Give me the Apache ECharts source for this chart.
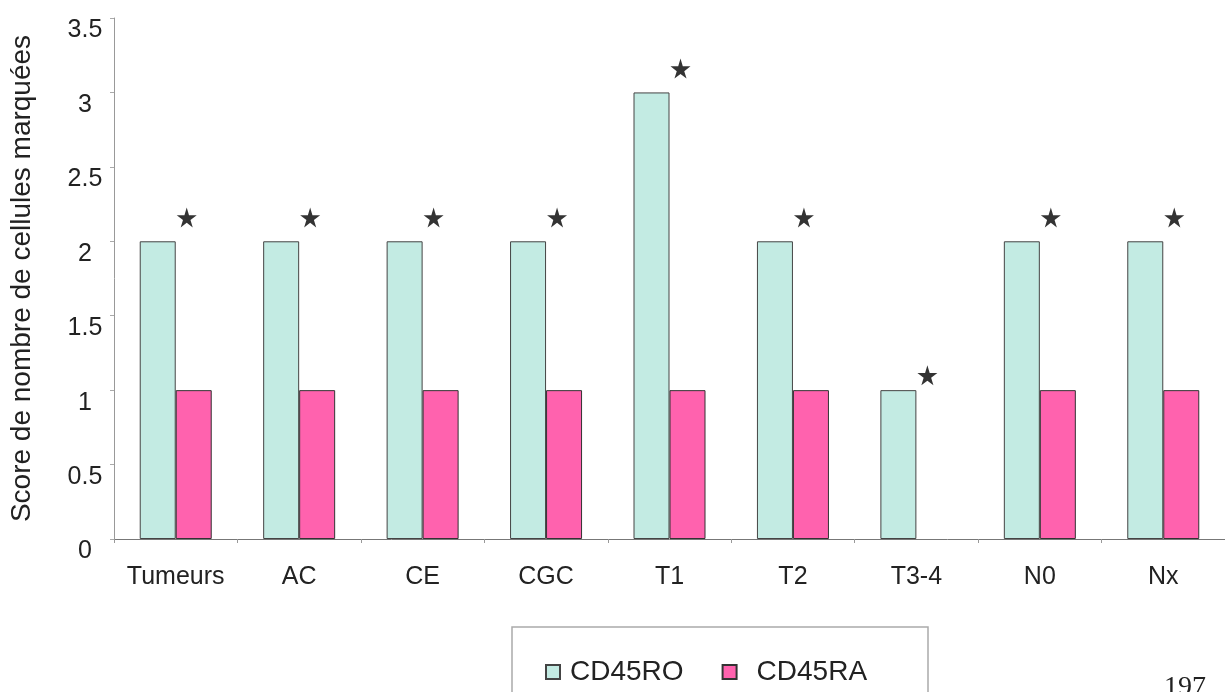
<!DOCTYPE html>
<html>
<head>
<meta charset="utf-8">
<script src="https://cdn.jsdelivr.net/npm/echarts@6/dist/echarts.min.js"></script>
<style>
html,body{margin:0;padding:0;background:#fff;}
#chart{width:1225px;height:692px;}
</style>
</head>
<body>
<div id="chart"></div>
<script>
const categories = ['Tumeurs', 'AC', 'CE', 'CGC', 'T1', 'T2', 'T3-4', 'N0', 'Nx'];
const cd45ro = [2, 2, 2, 2, 3, 2, 1, 2, 2];
const cd45ra = [1, 1, 1, 1, 1, 1, null, 1, 1];
const starValues = [2.16, 2.16, 2.16, 2.16, 3.16, 2.16, 1.1, 2.16, 2.16];
const yTicks = [0, 0.5, 1, 1.5, 2, 2.5, 3, 3.5];
const seriesNames = ['CD45RO', 'CD45RA'];
const yTitle = 'Score de nombre de cellules marquées';
const pageNumber = '197';

const starPath = 'path://M50,0 L61,35 L98,35 L68,57 L79,91 L50,70 L21,91 L32,57 L2,35 L39,35 Z';
const font = '"Liberation Sans", Arial, Helvetica, sans-serif';

const chart = echarts.init(document.getElementById('chart'));
chart.setOption({
  backgroundColor: '#ffffff',
  animation: false,
  grid: { left: 110, right: -10, top: 18, bottom: 153, containLabel: false },
  xAxis: {
    type: 'category',
    data: categories,
    axisLine: { lineStyle: { color: '#777', width: 1 } },
    axisTick: { show: true, length: 4, lineStyle: { color: '#999' } },
    axisLabel: { interval: 0, color: '#222', fontSize: 25, fontFamily: font, margin: 26 }
  },
  yAxis: {
    type: 'value',
    min: yTicks[0],
    max: yTicks[yTicks.length - 1],
    interval: 0.5,
    splitLine: { show: false },
    axisLine: { show: true, lineStyle: { color: '#999', width: 1 } },
    axisTick: { show: true, length: 4, lineStyle: { color: '#aaa' } },
    axisLabel: { color: '#222', fontSize: 25, fontFamily: font, align: 'center', verticalAlign: 'top', margin: 29 },
    name: yTitle,
    nameLocation: 'middle',
    nameGap: 78,
    nameTextStyle: { color: '#222', fontSize: 28, fontFamily: font }
  },
  legend: {
    left: 540, top: 653,
    itemWidth: 14, itemHeight: 14, itemGap: 38,
    icon: 'rect',
    data: [
      { name: seriesNames[0], textStyle: { padding: [0, 0, 0, 5] } },
      { name: seriesNames[1], textStyle: { padding: [0, 0, 0, 15] } }
    ],
    textStyle: { color: '#222', fontSize: 28, fontFamily: font }
  },
  series: [
    {
      name: seriesNames[0], type: 'bar', data: cd45ro, barWidth: 36, barGap: '0%',
      itemStyle: { color: '#c3ebe3', borderColor: '#444', borderWidth: 1 }
    },
    {
      name: seriesNames[1], type: 'bar', data: cd45ra, barWidth: 36, barGap: '0%',
      itemStyle: { color: '#ff62ae', borderColor: '#333', borderWidth: 1 }
    },
    {
      name: 'stars', type: 'scatter', data: starValues, symbol: starPath, symbolSize: 20,
      symbolOffset: [11, 0], itemStyle: { color: '#000' }, z: 5
    }
  ],
  graphic: [
    { type: 'rect', shape: { x: 512, y: 627, width: 416, height: 100 },
      style: { fill: 'none', stroke: '#aaa', lineWidth: 1.5 }, z: -1 },
    { type: 'text', left: 1164, top: 674,
      style: { text: pageNumber, fill: '#222', fontSize: 28, fontFamily: '"Liberation Serif", serif' } }
  ]
});
</script>
</body>
</html>
